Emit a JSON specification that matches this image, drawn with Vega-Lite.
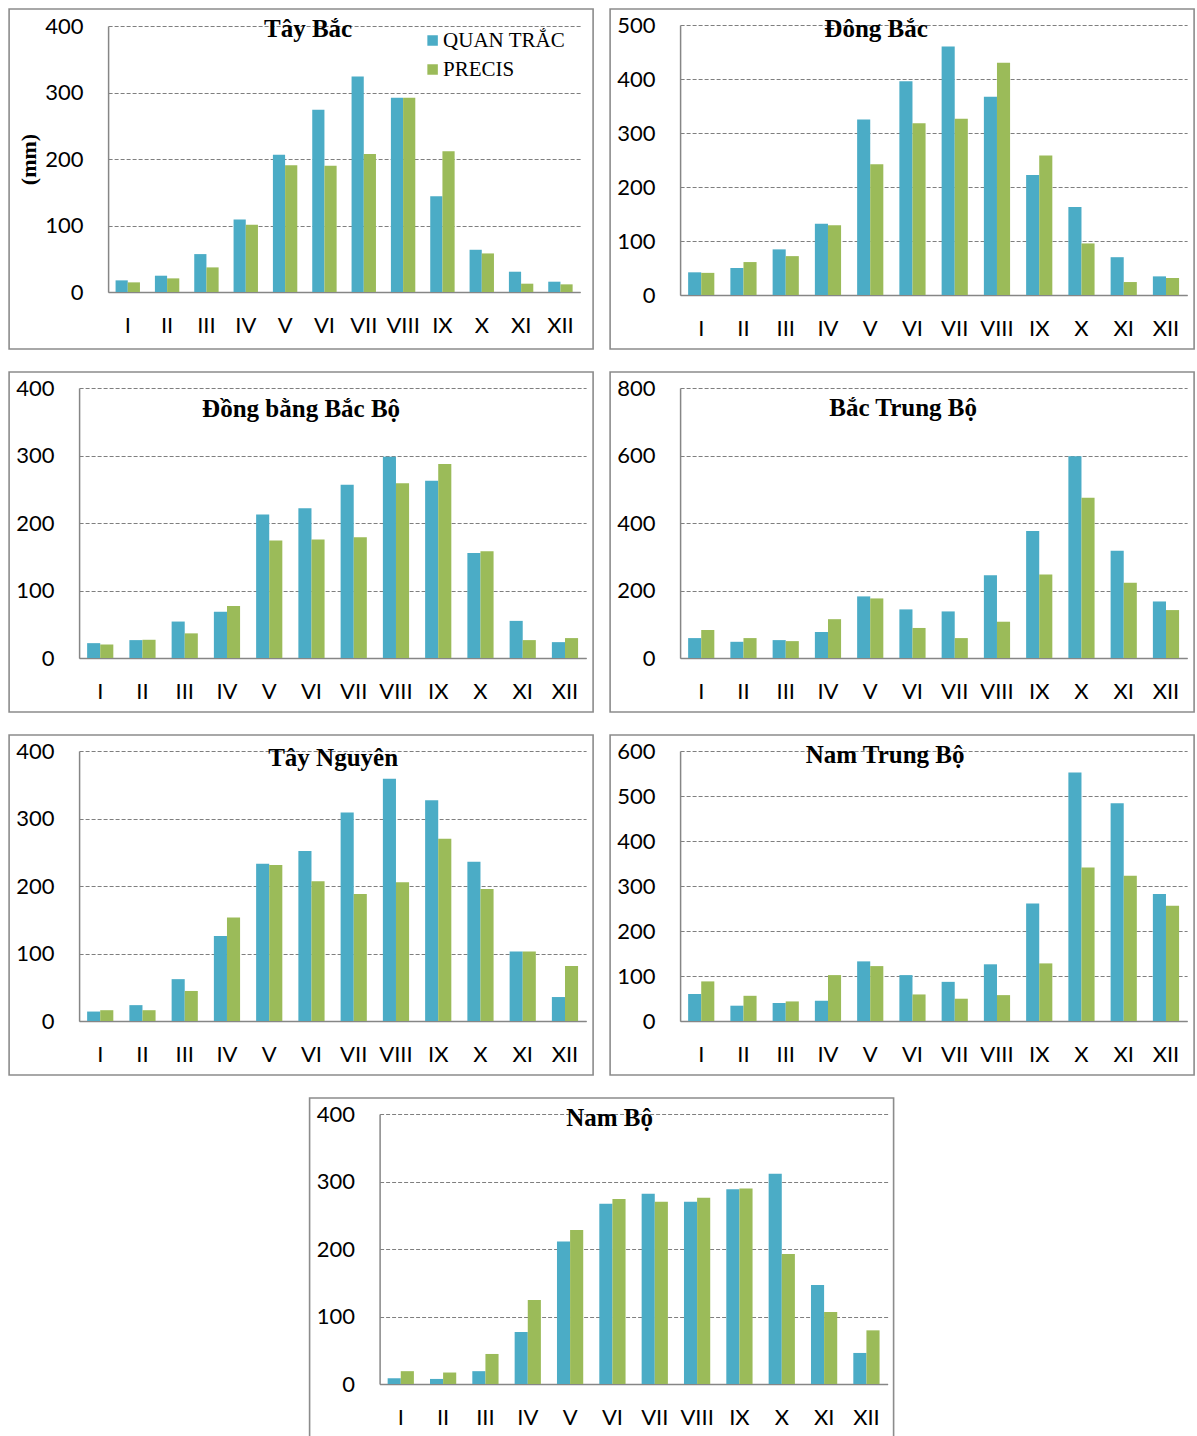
{
  "$schema": "https://vega.github.io/schema/vega-lite/v6.json",
  "padding": {"left": 8, "top": 8, "right": 0, "bottom": 0},
  "background": "white",
  "datasets": {
    "rain": [
      {"region": "Tây Bắc", "month": "I", "series": "QUAN TRẮC", "mm": 17.5},
      {"region": "Tây Bắc", "month": "II", "series": "QUAN TRẮC", "mm": 24.5},
      {"region": "Tây Bắc", "month": "III", "series": "QUAN TRẮC", "mm": 57},
      {"region": "Tây Bắc", "month": "IV", "series": "QUAN TRẮC", "mm": 109},
      {"region": "Tây Bắc", "month": "V", "series": "QUAN TRẮC", "mm": 206.5},
      {"region": "Tây Bắc", "month": "VI", "series": "QUAN TRẮC", "mm": 274},
      {"region": "Tây Bắc", "month": "VII", "series": "QUAN TRẮC", "mm": 324},
      {"region": "Tây Bắc", "month": "VIII", "series": "QUAN TRẮC", "mm": 292},
      {"region": "Tây Bắc", "month": "IX", "series": "QUAN TRẮC", "mm": 144},
      {"region": "Tây Bắc", "month": "X", "series": "QUAN TRẮC", "mm": 63.5},
      {"region": "Tây Bắc", "month": "XI", "series": "QUAN TRẮC", "mm": 30.5},
      {"region": "Tây Bắc", "month": "XII", "series": "QUAN TRẮC", "mm": 15.5},
      {"region": "Tây Bắc", "month": "I", "series": "PRECIS", "mm": 14.5},
      {"region": "Tây Bắc", "month": "II", "series": "PRECIS", "mm": 20.5},
      {"region": "Tây Bắc", "month": "III", "series": "PRECIS", "mm": 37},
      {"region": "Tây Bắc", "month": "IV", "series": "PRECIS", "mm": 101},
      {"region": "Tây Bắc", "month": "V", "series": "PRECIS", "mm": 190.5},
      {"region": "Tây Bắc", "month": "VI", "series": "PRECIS", "mm": 190},
      {"region": "Tây Bắc", "month": "VII", "series": "PRECIS", "mm": 207.5},
      {"region": "Tây Bắc", "month": "VIII", "series": "PRECIS", "mm": 292},
      {"region": "Tây Bắc", "month": "IX", "series": "PRECIS", "mm": 211.5},
      {"region": "Tây Bắc", "month": "X", "series": "PRECIS", "mm": 58},
      {"region": "Tây Bắc", "month": "XI", "series": "PRECIS", "mm": 12.5},
      {"region": "Tây Bắc", "month": "XII", "series": "PRECIS", "mm": 11.5},

      {"region": "Đông Bắc", "month": "I", "series": "QUAN TRẮC", "mm": 42},
      {"region": "Đông Bắc", "month": "II", "series": "QUAN TRẮC", "mm": 50},
      {"region": "Đông Bắc", "month": "III", "series": "QUAN TRẮC", "mm": 84.5},
      {"region": "Đông Bắc", "month": "IV", "series": "QUAN TRẮC", "mm": 132},
      {"region": "Đông Bắc", "month": "V", "series": "QUAN TRẮC", "mm": 325},
      {"region": "Đông Bắc", "month": "VI", "series": "QUAN TRẮC", "mm": 396},
      {"region": "Đông Bắc", "month": "VII", "series": "QUAN TRẮC", "mm": 460},
      {"region": "Đông Bắc", "month": "VIII", "series": "QUAN TRẮC", "mm": 367},
      {"region": "Đông Bắc", "month": "IX", "series": "QUAN TRẮC", "mm": 222},
      {"region": "Đông Bắc", "month": "X", "series": "QUAN TRẮC", "mm": 163},
      {"region": "Đông Bắc", "month": "XI", "series": "QUAN TRẮC", "mm": 70},
      {"region": "Đông Bắc", "month": "XII", "series": "QUAN TRẮC", "mm": 34.5},
      {"region": "Đông Bắc", "month": "I", "series": "PRECIS", "mm": 41},
      {"region": "Đông Bắc", "month": "II", "series": "PRECIS", "mm": 61},
      {"region": "Đông Bắc", "month": "III", "series": "PRECIS", "mm": 72},
      {"region": "Đông Bắc", "month": "IV", "series": "PRECIS", "mm": 129},
      {"region": "Đông Bắc", "month": "V", "series": "PRECIS", "mm": 242},
      {"region": "Đông Bắc", "month": "VI", "series": "PRECIS", "mm": 318},
      {"region": "Đông Bắc", "month": "VII", "series": "PRECIS", "mm": 326.5},
      {"region": "Đông Bắc", "month": "VIII", "series": "PRECIS", "mm": 430},
      {"region": "Đông Bắc", "month": "IX", "series": "PRECIS", "mm": 258.5},
      {"region": "Đông Bắc", "month": "X", "series": "PRECIS", "mm": 95.5},
      {"region": "Đông Bắc", "month": "XI", "series": "PRECIS", "mm": 24},
      {"region": "Đông Bắc", "month": "XII", "series": "PRECIS", "mm": 31.5},

      {"region": "Đồng bằng Bắc Bộ", "month": "I", "series": "QUAN TRẮC", "mm": 22},
      {"region": "Đồng bằng Bắc Bộ", "month": "II", "series": "QUAN TRẮC", "mm": 26.5},
      {"region": "Đồng bằng Bắc Bộ", "month": "III", "series": "QUAN TRẮC", "mm": 54},
      {"region": "Đồng bằng Bắc Bộ", "month": "IV", "series": "QUAN TRẮC", "mm": 68.5},
      {"region": "Đồng bằng Bắc Bộ", "month": "V", "series": "QUAN TRẮC", "mm": 212.5},
      {"region": "Đồng bằng Bắc Bộ", "month": "VI", "series": "QUAN TRẮC", "mm": 222},
      {"region": "Đồng bằng Bắc Bộ", "month": "VII", "series": "QUAN TRẮC", "mm": 256.5},
      {"region": "Đồng bằng Bắc Bộ", "month": "VIII", "series": "QUAN TRẮC", "mm": 298},
      {"region": "Đồng bằng Bắc Bộ", "month": "IX", "series": "QUAN TRẮC", "mm": 262.5},
      {"region": "Đồng bằng Bắc Bộ", "month": "X", "series": "QUAN TRẮC", "mm": 155.5},
      {"region": "Đồng bằng Bắc Bộ", "month": "XI", "series": "QUAN TRẮC", "mm": 55},
      {"region": "Đồng bằng Bắc Bộ", "month": "XII", "series": "QUAN TRẮC", "mm": 23.5},
      {"region": "Đồng bằng Bắc Bộ", "month": "I", "series": "PRECIS", "mm": 20},
      {"region": "Đồng bằng Bắc Bộ", "month": "II", "series": "PRECIS", "mm": 27},
      {"region": "Đồng bằng Bắc Bộ", "month": "III", "series": "PRECIS", "mm": 36.5},
      {"region": "Đồng bằng Bắc Bộ", "month": "IV", "series": "PRECIS", "mm": 77},
      {"region": "Đồng bằng Bắc Bộ", "month": "V", "series": "PRECIS", "mm": 174},
      {"region": "Đồng bằng Bắc Bộ", "month": "VI", "series": "PRECIS", "mm": 175.5},
      {"region": "Đồng bằng Bắc Bộ", "month": "VII", "series": "PRECIS", "mm": 179},
      {"region": "Đồng bằng Bắc Bộ", "month": "VIII", "series": "PRECIS", "mm": 259},
      {"region": "Đồng bằng Bắc Bộ", "month": "IX", "series": "PRECIS", "mm": 287.5},
      {"region": "Đồng bằng Bắc Bộ", "month": "X", "series": "PRECIS", "mm": 158},
      {"region": "Đồng bằng Bắc Bộ", "month": "XI", "series": "PRECIS", "mm": 26.5},
      {"region": "Đồng bằng Bắc Bộ", "month": "XII", "series": "PRECIS", "mm": 29.5},

      {"region": "Bắc Trung Bộ", "month": "I", "series": "QUAN TRẮC", "mm": 59},
      {"region": "Bắc Trung Bộ", "month": "II", "series": "QUAN TRẮC", "mm": 48},
      {"region": "Bắc Trung Bộ", "month": "III", "series": "QUAN TRẮC", "mm": 53},
      {"region": "Bắc Trung Bộ", "month": "IV", "series": "QUAN TRẮC", "mm": 77},
      {"region": "Bắc Trung Bộ", "month": "V", "series": "QUAN TRẮC", "mm": 182.5},
      {"region": "Bắc Trung Bộ", "month": "VI", "series": "QUAN TRẮC", "mm": 144},
      {"region": "Bắc Trung Bộ", "month": "VII", "series": "QUAN TRẮC", "mm": 138},
      {"region": "Bắc Trung Bộ", "month": "VIII", "series": "QUAN TRẮC", "mm": 245.5},
      {"region": "Bắc Trung Bộ", "month": "IX", "series": "QUAN TRẮC", "mm": 376},
      {"region": "Bắc Trung Bộ", "month": "X", "series": "QUAN TRẮC", "mm": 598},
      {"region": "Bắc Trung Bộ", "month": "XI", "series": "QUAN TRẮC", "mm": 317.5},
      {"region": "Bắc Trung Bộ", "month": "XII", "series": "QUAN TRẮC", "mm": 167.5},
      {"region": "Bắc Trung Bộ", "month": "I", "series": "PRECIS", "mm": 83},
      {"region": "Bắc Trung Bộ", "month": "II", "series": "PRECIS", "mm": 59},
      {"region": "Bắc Trung Bộ", "month": "III", "series": "PRECIS", "mm": 50},
      {"region": "Bắc Trung Bộ", "month": "IV", "series": "PRECIS", "mm": 115},
      {"region": "Bắc Trung Bộ", "month": "V", "series": "PRECIS", "mm": 176.5},
      {"region": "Bắc Trung Bộ", "month": "VI", "series": "PRECIS", "mm": 89},
      {"region": "Bắc Trung Bộ", "month": "VII", "series": "PRECIS", "mm": 59},
      {"region": "Bắc Trung Bộ", "month": "VIII", "series": "PRECIS", "mm": 107.5},
      {"region": "Bắc Trung Bộ", "month": "IX", "series": "PRECIS", "mm": 247.5},
      {"region": "Bắc Trung Bộ", "month": "X", "series": "PRECIS", "mm": 474.5},
      {"region": "Bắc Trung Bộ", "month": "XI", "series": "PRECIS", "mm": 223},
      {"region": "Bắc Trung Bộ", "month": "XII", "series": "PRECIS", "mm": 142},

      {"region": "Tây Nguyên", "month": "I", "series": "QUAN TRẮC", "mm": 14},
      {"region": "Tây Nguyên", "month": "II", "series": "QUAN TRẮC", "mm": 23.5},
      {"region": "Tây Nguyên", "month": "III", "series": "QUAN TRẮC", "mm": 62},
      {"region": "Tây Nguyên", "month": "IV", "series": "QUAN TRẮC", "mm": 126},
      {"region": "Tây Nguyên", "month": "V", "series": "QUAN TRẮC", "mm": 233},
      {"region": "Tây Nguyên", "month": "VI", "series": "QUAN TRẮC", "mm": 252},
      {"region": "Tây Nguyên", "month": "VII", "series": "QUAN TRẮC", "mm": 309},
      {"region": "Tây Nguyên", "month": "VIII", "series": "QUAN TRẮC", "mm": 359},
      {"region": "Tây Nguyên", "month": "IX", "series": "QUAN TRẮC", "mm": 327},
      {"region": "Tây Nguyên", "month": "X", "series": "QUAN TRẮC", "mm": 236},
      {"region": "Tây Nguyên", "month": "XI", "series": "QUAN TRẮC", "mm": 103},
      {"region": "Tây Nguyên", "month": "XII", "series": "QUAN TRẮC", "mm": 35.5},
      {"region": "Tây Nguyên", "month": "I", "series": "PRECIS", "mm": 16},
      {"region": "Tây Nguyên", "month": "II", "series": "PRECIS", "mm": 16},
      {"region": "Tây Nguyên", "month": "III", "series": "PRECIS", "mm": 44.5},
      {"region": "Tây Nguyên", "month": "IV", "series": "PRECIS", "mm": 153.5},
      {"region": "Tây Nguyên", "month": "V", "series": "PRECIS", "mm": 231},
      {"region": "Tây Nguyên", "month": "VI", "series": "PRECIS", "mm": 207},
      {"region": "Tây Nguyên", "month": "VII", "series": "PRECIS", "mm": 188},
      {"region": "Tây Nguyên", "month": "VIII", "series": "PRECIS", "mm": 205.5},
      {"region": "Tây Nguyên", "month": "IX", "series": "PRECIS", "mm": 270},
      {"region": "Tây Nguyên", "month": "X", "series": "PRECIS", "mm": 195.5},
      {"region": "Tây Nguyên", "month": "XI", "series": "PRECIS", "mm": 103},
      {"region": "Tây Nguyên", "month": "XII", "series": "PRECIS", "mm": 81.5},

      {"region": "Nam Trung Bộ", "month": "I", "series": "QUAN TRẮC", "mm": 60},
      {"region": "Nam Trung Bộ", "month": "II", "series": "QUAN TRẮC", "mm": 34},
      {"region": "Nam Trung Bộ", "month": "III", "series": "QUAN TRẮC", "mm": 40},
      {"region": "Nam Trung Bộ", "month": "IV", "series": "QUAN TRẮC", "mm": 45},
      {"region": "Nam Trung Bộ", "month": "V", "series": "QUAN TRẮC", "mm": 132.5},
      {"region": "Nam Trung Bộ", "month": "VI", "series": "QUAN TRẮC", "mm": 102},
      {"region": "Nam Trung Bộ", "month": "VII", "series": "QUAN TRẮC", "mm": 87},
      {"region": "Nam Trung Bộ", "month": "VIII", "series": "QUAN TRẮC", "mm": 126},
      {"region": "Nam Trung Bộ", "month": "IX", "series": "QUAN TRẮC", "mm": 261},
      {"region": "Nam Trung Bộ", "month": "X", "series": "QUAN TRẮC", "mm": 552},
      {"region": "Nam Trung Bộ", "month": "XI", "series": "QUAN TRẮC", "mm": 484},
      {"region": "Nam Trung Bộ", "month": "XII", "series": "QUAN TRẮC", "mm": 282},
      {"region": "Nam Trung Bộ", "month": "I", "series": "PRECIS", "mm": 88},
      {"region": "Nam Trung Bộ", "month": "II", "series": "PRECIS", "mm": 56},
      {"region": "Nam Trung Bộ", "month": "III", "series": "PRECIS", "mm": 43.5},
      {"region": "Nam Trung Bộ", "month": "IV", "series": "PRECIS", "mm": 102},
      {"region": "Nam Trung Bộ", "month": "V", "series": "PRECIS", "mm": 122},
      {"region": "Nam Trung Bộ", "month": "VI", "series": "PRECIS", "mm": 59},
      {"region": "Nam Trung Bộ", "month": "VII", "series": "PRECIS", "mm": 49.5},
      {"region": "Nam Trung Bộ", "month": "VIII", "series": "PRECIS", "mm": 57.5},
      {"region": "Nam Trung Bộ", "month": "IX", "series": "PRECIS", "mm": 128},
      {"region": "Nam Trung Bộ", "month": "X", "series": "PRECIS", "mm": 341},
      {"region": "Nam Trung Bộ", "month": "XI", "series": "PRECIS", "mm": 323},
      {"region": "Nam Trung Bộ", "month": "XII", "series": "PRECIS", "mm": 256},

      {"region": "Nam Bộ", "month": "I", "series": "QUAN TRẮC", "mm": 8.5},
      {"region": "Nam Bộ", "month": "II", "series": "QUAN TRẮC", "mm": 7.5},
      {"region": "Nam Bộ", "month": "III", "series": "QUAN TRẮC", "mm": 19},
      {"region": "Nam Bộ", "month": "IV", "series": "QUAN TRẮC", "mm": 77},
      {"region": "Nam Bộ", "month": "V", "series": "QUAN TRẮC", "mm": 211},
      {"region": "Nam Bộ", "month": "VI", "series": "QUAN TRẮC", "mm": 267},
      {"region": "Nam Bộ", "month": "VII", "series": "QUAN TRẮC", "mm": 282},
      {"region": "Nam Bộ", "month": "VIII", "series": "QUAN TRẮC", "mm": 270},
      {"region": "Nam Bộ", "month": "IX", "series": "QUAN TRẮC", "mm": 288.5},
      {"region": "Nam Bộ", "month": "X", "series": "QUAN TRẮC", "mm": 311.5},
      {"region": "Nam Bộ", "month": "XI", "series": "QUAN TRẮC", "mm": 146.5},
      {"region": "Nam Bộ", "month": "XII", "series": "QUAN TRẮC", "mm": 46},
      {"region": "Nam Bộ", "month": "I", "series": "PRECIS", "mm": 19},
      {"region": "Nam Bộ", "month": "II", "series": "PRECIS", "mm": 17},
      {"region": "Nam Bộ", "month": "III", "series": "PRECIS", "mm": 44.5},
      {"region": "Nam Bộ", "month": "IV", "series": "PRECIS", "mm": 124.5},
      {"region": "Nam Bộ", "month": "V", "series": "PRECIS", "mm": 228},
      {"region": "Nam Bộ", "month": "VI", "series": "PRECIS", "mm": 274},
      {"region": "Nam Bộ", "month": "VII", "series": "PRECIS", "mm": 270},
      {"region": "Nam Bộ", "month": "VIII", "series": "PRECIS", "mm": 276},
      {"region": "Nam Bộ", "month": "IX", "series": "PRECIS", "mm": 289.5},
      {"region": "Nam Bộ", "month": "X", "series": "PRECIS", "mm": 192.5},
      {"region": "Nam Bộ", "month": "XI", "series": "PRECIS", "mm": 106.5},
      {"region": "Nam Bộ", "month": "XII", "series": "PRECIS", "mm": 79.5}
    ]
  },
  "vconcat": [
    {
      "hconcat": [
        {
          "width": 584, "height": 340,
          "data": {"name": "rain"},
          "transform": [{"filter": "datum.region === 'Tây Bắc'"}],
          "title": {"text": "Tây Bắc", "dx": 7, "offset": -33},
          "mark": {"type": "bar"},
          "encoding": {
            "x": {"field": "month", "type": "nominal", "sort": ["I","II","III","IV","V","VI","VII","VIII","IX","X","XI","XII"], "scale": {"range": [99, 571], "paddingInner": 0.38, "paddingOuter": 0.19}, "axis": {"offset": -57}},
            "xOffset": {"field": "series", "type": "nominal", "scale": {"domain": ["QUAN TRẮC","PRECIS"], "paddingInner": 0, "paddingOuter": 0}},
            "y": {"field": "mm", "type": "quantitative", "scale": {"domain": [0, 400], "range": [283, 17], "nice": false}, "axis": {"offset": -99, "values": [0,100,200,300,400], "title": "(mm)", "titlePadding": 4}},
            "color": {"field": "series", "type": "nominal", "scale": {"domain": ["QUAN TRẮC","PRECIS"], "range": ["#4BACC6","#9BBB59"]},
              "legend": {"orient": "none", "legendX": 413, "legendY": 21, "title": null, "symbolType": "square", "symbolSize": 110, "symbolStrokeWidth": 0, "labelFont": "Liberation Serif", "labelFontSize": 21, "labelColor": "black", "labelOffset": 0, "rowPadding": 7, "padding": 0, "labelLimit": 300}}
          }
        },
        {
          "width": 584, "height": 340,
          "data": {"name": "rain"},
          "transform": [{"filter": "datum.region === 'Đông Bắc'"}],
          "title": {"text": "Đông Bắc", "dx": -26, "offset": -33},
          "mark": {"type": "bar"},
          "encoding": {
            "x": {"field": "month", "type": "nominal", "sort": ["I","II","III","IV","V","VI","VII","VIII","IX","X","XI","XII"], "scale": {"range": [70, 577], "paddingInner": 0.38, "paddingOuter": 0.19}, "axis": {"offset": -54}},
            "xOffset": {"field": "series", "type": "nominal", "scale": {"domain": ["QUAN TRẮC","PRECIS"], "paddingInner": 0, "paddingOuter": 0}},
            "y": {"field": "mm", "type": "quantitative", "scale": {"domain": [0, 500], "range": [286, 16], "nice": false}, "axis": {"offset": -70, "values": [0,100,200,300,400,500], "title": null}},
            "color": {"field": "series", "type": "nominal", "scale": {"domain": ["QUAN TRẮC","PRECIS"], "range": ["#4BACC6","#9BBB59"]}, "legend": null}
          }
        }
      ],
      "spacing": 17,
      "bounds": "flush",
      "resolve": {"scale": {"x": "independent", "y": "independent", "color": "independent", "xOffset": "independent"}, "axis": {"x": "independent", "y": "independent"}, "legend": {"color": "independent"}}
    },
    {
      "hconcat": [
        {
          "width": 584, "height": 340,
          "data": {"name": "rain"},
          "transform": [{"filter": "datum.region === 'Đồng bằng Bắc Bộ'"}],
          "title": {"text": "Đồng bằng Bắc Bộ", "dx": 0, "offset": -50},
          "mark": {"type": "bar"},
          "encoding": {
            "x": {"field": "month", "type": "nominal", "sort": ["I","II","III","IV","V","VI","VII","VIII","IX","X","XI","XII"], "scale": {"range": [70, 577], "paddingInner": 0.38, "paddingOuter": 0.19}, "axis": {"offset": -54}},
            "xOffset": {"field": "series", "type": "nominal", "scale": {"domain": ["QUAN TRẮC","PRECIS"], "paddingInner": 0, "paddingOuter": 0}},
            "y": {"field": "mm", "type": "quantitative", "scale": {"domain": [0, 400], "range": [286, 16], "nice": false}, "axis": {"offset": -70, "values": [0,100,200,300,400], "title": null}},
            "color": {"field": "series", "type": "nominal", "scale": {"domain": ["QUAN TRẮC","PRECIS"], "range": ["#4BACC6","#9BBB59"]}, "legend": null}
          }
        },
        {
          "width": 584, "height": 340,
          "data": {"name": "rain"},
          "transform": [{"filter": "datum.region === 'Bắc Trung Bộ'"}],
          "title": {"text": "Bắc Trung Bộ", "dx": 1, "offset": -49},
          "mark": {"type": "bar"},
          "encoding": {
            "x": {"field": "month", "type": "nominal", "sort": ["I","II","III","IV","V","VI","VII","VIII","IX","X","XI","XII"], "scale": {"range": [70, 577], "paddingInner": 0.38, "paddingOuter": 0.19}, "axis": {"offset": -54}},
            "xOffset": {"field": "series", "type": "nominal", "scale": {"domain": ["QUAN TRẮC","PRECIS"], "paddingInner": 0, "paddingOuter": 0}},
            "y": {"field": "mm", "type": "quantitative", "scale": {"domain": [0, 800], "range": [286, 16], "nice": false}, "axis": {"offset": -70, "values": [0,200,400,600,800], "title": null}},
            "color": {"field": "series", "type": "nominal", "scale": {"domain": ["QUAN TRẮC","PRECIS"], "range": ["#4BACC6","#9BBB59"]}, "legend": null}
          }
        }
      ],
      "spacing": 17,
      "bounds": "flush",
      "resolve": {"scale": {"x": "independent", "y": "independent", "color": "independent", "xOffset": "independent"}, "axis": {"x": "independent", "y": "independent"}, "legend": {"color": "independent"}}
    },
    {
      "hconcat": [
        {
          "width": 584, "height": 340,
          "data": {"name": "rain"},
          "transform": [{"filter": "datum.region === 'Tây Nguyên'"}],
          "title": {"text": "Tây Nguyên", "dx": 32, "offset": -36},
          "mark": {"type": "bar"},
          "encoding": {
            "x": {"field": "month", "type": "nominal", "sort": ["I","II","III","IV","V","VI","VII","VIII","IX","X","XI","XII"], "scale": {"range": [70, 577], "paddingInner": 0.38, "paddingOuter": 0.19}, "axis": {"offset": -54}},
            "xOffset": {"field": "series", "type": "nominal", "scale": {"domain": ["QUAN TRẮC","PRECIS"], "paddingInner": 0, "paddingOuter": 0}},
            "y": {"field": "mm", "type": "quantitative", "scale": {"domain": [0, 400], "range": [286, 16], "nice": false}, "axis": {"offset": -70, "values": [0,100,200,300,400], "title": null}},
            "color": {"field": "series", "type": "nominal", "scale": {"domain": ["QUAN TRẮC","PRECIS"], "range": ["#4BACC6","#9BBB59"]}, "legend": null}
          }
        },
        {
          "width": 584, "height": 340,
          "data": {"name": "rain"},
          "transform": [{"filter": "datum.region === 'Nam Trung Bộ'"}],
          "title": {"text": "Nam Trung Bộ", "dx": -17, "offset": -33},
          "mark": {"type": "bar"},
          "encoding": {
            "x": {"field": "month", "type": "nominal", "sort": ["I","II","III","IV","V","VI","VII","VIII","IX","X","XI","XII"], "scale": {"range": [70, 577], "paddingInner": 0.38, "paddingOuter": 0.19}, "axis": {"offset": -54}},
            "xOffset": {"field": "series", "type": "nominal", "scale": {"domain": ["QUAN TRẮC","PRECIS"], "paddingInner": 0, "paddingOuter": 0}},
            "y": {"field": "mm", "type": "quantitative", "scale": {"domain": [0, 600], "range": [286, 16], "nice": false}, "axis": {"offset": -70, "values": [0,100,200,300,400,500,600], "title": null}},
            "color": {"field": "series", "type": "nominal", "scale": {"domain": ["QUAN TRẮC","PRECIS"], "range": ["#4BACC6","#9BBB59"]}, "legend": null}
          }
        }
      ],
      "spacing": 17,
      "bounds": "flush",
      "resolve": {"scale": {"x": "independent", "y": "independent", "color": "independent", "xOffset": "independent"}, "axis": {"x": "independent", "y": "independent"}, "legend": {"color": "independent"}}
    },
    {
      "width": 584, "height": 340,
      "data": {"name": "rain"},
      "transform": [{"filter": "datum.region === 'Nam Bộ'"}],
      "title": {"text": "Nam Bộ", "dx": 8, "offset": -33},
      "mark": {"type": "bar"},
      "encoding": {
        "x": {"field": "month", "type": "nominal", "sort": ["I","II","III","IV","V","VI","VII","VIII","IX","X","XI","XII"], "scale": {"range": [70, 578], "paddingInner": 0.38, "paddingOuter": 0.19}, "axis": {"offset": -54}},
        "xOffset": {"field": "series", "type": "nominal", "scale": {"domain": ["QUAN TRẮC","PRECIS"], "paddingInner": 0, "paddingOuter": 0}},
        "y": {"field": "mm", "type": "quantitative", "scale": {"domain": [0, 400], "range": [286, 16], "nice": false}, "axis": {"offset": -70, "values": [0,100,200,300,400], "title": null}},
        "color": {"field": "series", "type": "nominal", "scale": {"domain": ["QUAN TRẮC","PRECIS"], "range": ["#4BACC6","#9BBB59"]}, "legend": null}
      }
    }
  ],
  "spacing": 21,
  "center": true,
  "resolve": {"scale": {"x": "independent", "y": "independent", "color": "independent", "xOffset": "independent"}, "axis": {"x": "independent", "y": "independent"}, "legend": {"color": "independent"}},
  "config": {
    "view": {"stroke": "#8C8C8C", "strokeWidth": 1.6},
    "title": {"font": "Liberation Serif", "fontSize": 25, "fontWeight": "bold", "color": "black", "anchor": "middle", "frame": "group", "baseline": "alphabetic"},
    "axis": {"labelFont": "Lato", "labelFontSize": 22, "labelColor": "black", "ticks": false, "tickSize": 0, "domainColor": "#868686", "domainWidth": 1.5, "gridColor": "#7F7F7F", "gridDash": [4, 2], "gridWidth": 1, "labelOverlap": false, "labelBound": false, "labelFlush": false, "titleFont": "Liberation Serif", "titleFontSize": 22, "titleFontWeight": "bold", "titleColor": "black", "titlePadding": 2},
    "axisX": {"grid": false, "labelAngle": 0, "labelPadding": 23, "title": null},
    "axisY": {"grid": true, "labelPadding": 25}
  }
}
